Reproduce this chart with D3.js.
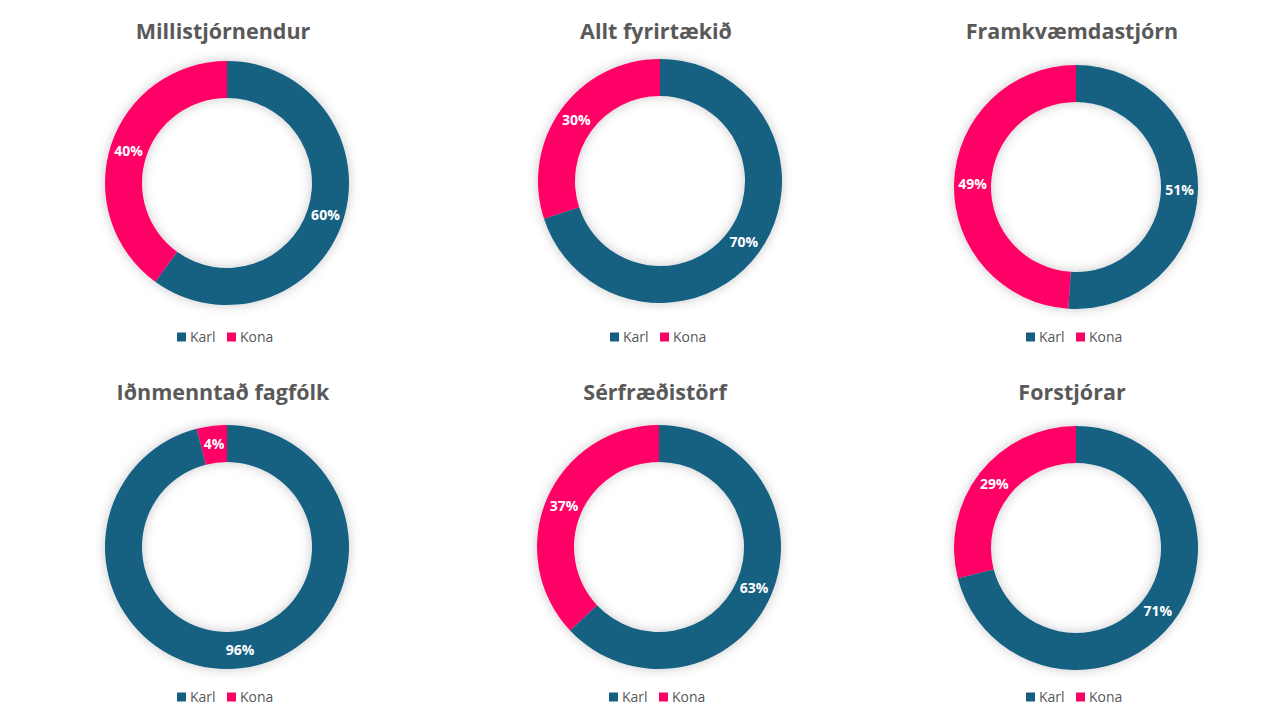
<!DOCTYPE html>
<html>
<head>
<meta charset="utf-8">
<title>Kynjahlutföll</title>
<style>
	body { margin: 0; background: #fff; }
	svg { display: block; font-family: "Open Sans", "Noto Sans", sans-serif; }
	.title { font-size: 21.5px; font-weight: 700; fill: #595959; }
	.lbl { font-size: 14px; font-weight: 700; fill: #fff; }
	.legend text { font-size: 14px; fill: #595959; }
</style>
</head>
<body>
<svg id="chart" width="1280" height="720"></svg>
<script src="https://d3js.org/d3.v7.min.js"></script>
<script>
	var titles = ['Millistjórnendur', 'Allt fyrirtækið', 'Framkvæmdastjórn', 'Iðnmenntað fagfólk', 'Sérfræðistörf', 'Forstjórar']
	var series = ['Karl', 'Kona']
	var karl = [60, 70, 51, 96, 63, 71]
	var kona = [40, 30, 49, 4, 37, 29]

	var colors = ['#156082', '#ff0066']
	var centers = [[227, 183], [660, 181], [1076, 187], [227, 547], [659, 547], [1076, 548]]
	var titleY = [31, 31, 31, 392, 392, 392]
	var legendY = [337, 337, 337, 697, 697, 697]

	var svg = d3.select('#chart')

	var defs = svg.append('defs')
	var f = defs.append('filter').attr('id', 'shadow')
		.attr('x', '-30%').attr('y', '-30%').attr('width', '160%').attr('height', '160%')
	f.append('feDropShadow').attr('dx', 0).attr('dy', 0).attr('stdDeviation', 6)
		.attr('flood-color', '#000').attr('flood-opacity', 0.22)

	var color = d3.scaleOrdinal().domain(series).range(colors)
	var pie = d3.pie().sort(null).value(function(d) { return d.v })
	var arc = d3.arc().innerRadius(85).outerRadius(122)
	var labelArc = d3.arc().innerRadius(103.5).outerRadius(103.5)

	titles.forEach(function(t, i) {
		var c = centers[i]
		var data = [{ k: 'Karl', v: karl[i] }, { k: 'Kona', v: kona[i] }]

		// titles sit a little left of the ring centre in the original
		svg.append('text').attr('class', 'title')
			.attr('x', c[0] - 4).attr('y', titleY[i]).attr('dy', '0.35em')
			.attr('text-anchor', 'middle').text(t)

		var g = svg.append('g').attr('transform', 'translate(' + c + ')')
		var ring = g.append('g').attr('filter', 'url(#shadow)')
		ring.selectAll('path').data(pie(data)).enter().append('path')
			.attr('d', arc).attr('fill', function(d) { return color(d.data.k) })

		g.selectAll('.lbl').data(pie(data)).enter().append('text')
			.attr('class', 'lbl')
			.attr('transform', function(d) { return 'translate(' + labelArc.centroid(d) + ')' })
			.attr('text-anchor', 'middle').attr('dy', '0.35em')
			.text(function(d) { return d.data.v + '%' })

		var lg = svg.append('g').attr('class', 'legend')
			.attr('transform', 'translate(' + (c[0] - 50) + ',' + legendY[i] + ')')
		var items = lg.selectAll('g').data(series).enter().append('g')
			.attr('transform', function(d, j) { return 'translate(' + (j * 50) + ',0)' })
		items.append('rect').attr('x', 0).attr('y', -4.5).attr('width', 9).attr('height', 9)
			.attr('fill', function(d) { return color(d) })
		items.append('text').attr('x', 13).attr('dy', '0.35em').text(function(d) { return d })
	})
</script>
</body>
</html>
